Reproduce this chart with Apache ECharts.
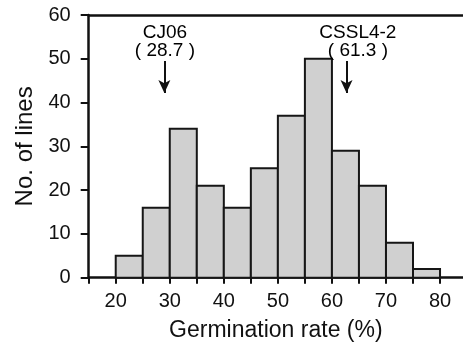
<!DOCTYPE html>
<html>
<head>
<meta charset="utf-8">
<script src="https://cdn.jsdelivr.net/npm/echarts@6/dist/echarts.min.js"></script>
<style>
  html, body { margin: 0; padding: 0; background: #fff; }
  #chart { width: 463px; height: 343px; }
</style>
</head>
<body>
<div id="chart"></div>
<script>
// histogram bins (left edge, width 5) and counts
const binStart = [20, 25, 30, 35, 40, 45, 50, 55, 60, 65, 70, 75];
const binWidth = 5;
const counts = [5, 16, 34, 21, 16, 25, 37, 50, 29, 21, 8, 2];

const xTicks = [15, 20, 25, 30, 35, 40, 45, 50, 55, 60, 65, 70, 75, 80];
const xLabels = [20, 30, 40, 50, 60, 70, 80];
const yTicks = [0, 10, 20, 30, 40, 50, 60];

// parent lines marked with arrows
const parentNames = ['CJ06', 'CSSL4-2'];
const parentValues = ['28.7', '61.3'];
const arrowX = [29.0, 62.7];
const labelX = [29.1, 64.8];

const FONT = 'Liberation Sans, Arial, sans-serif';
const chart = echarts.init(document.getElementById('chart'));

const bins = binStart.map((s, i) => [s, s + binWidth, counts[i]]);

const arrowLines = arrowX.map(x => [
    { coord: [x, 49.5] },
    { coord: [x, 42.2] }
]);

const option = {
    animation: false,
    grid: { left: 88.7, top: 15, right: 0, bottom: 65.3, outerBoundsMode: 'none', containLabel: false },
    xAxis: [{
        type: 'value', min: 15, max: 84.25, interval: 5,
        splitLine: { show: false },
        axisLine: { lineStyle: { color: '#111', width: 2.5 } },
        axisTick: { show: true, length: 6, customValues: xTicks, lineStyle: { color: '#111', width: 2 } },
        axisLabel: { customValues: xLabels, margin: 14, color: '#111', fontSize: 20, fontFamily: FONT },
        name: 'Germination rate (%)', nameLocation: 'middle', nameGap: 41,
        nameTextStyle: { color: '#111', fontSize: 23, fontFamily: FONT }
    }, {
        type: 'value', position: 'top', min: 15, max: 84.25,
        splitLine: { show: false },
        axisLine: { show: true, onZero: false, lineStyle: { color: '#111', width: 2.5 } },
        axisTick: { show: false }, axisLabel: { show: false }
    }],
    yAxis: {
        type: 'value', min: 0, max: 60, interval: 10,
        splitLine: { show: false },
        axisLine: { show: true, lineStyle: { color: '#111', width: 2.5 } },
        axisTick: { show: true, length: 8, customValues: yTicks, lineStyle: { color: '#111', width: 2 } },
        axisLabel: { margin: 18, color: '#111', fontSize: 20, fontFamily: FONT },
        name: 'No. of lines', nameLocation: 'middle', nameGap: 51,
        nameTextStyle: { color: '#111', fontSize: 24, fontFamily: FONT }
    },
    series: [{
        type: 'custom',
        data: bins,
        renderItem: (params, api) => {
            const p0 = api.coord([api.value(0), api.value(2)]);
            const p1 = api.coord([api.value(1), 0]);
            return {
                type: 'rect',
                shape: { x: p0[0], y: p0[1], width: p1[0] - p0[0], height: p1[1] - p0[1] },
                style: { fill: '#d0d0d0', stroke: '#161616', lineWidth: 2 }
            };
        },
        markLine: {
            silent: true,
            symbol: ['none', 'arrow'],
            symbolSize: [9, 13],
            label: { show: false },
            lineStyle: { color: '#111', width: 2, type: 'solid' },
            data: arrowLines
        },
        z: 2
    }, {
        type: 'scatter',
        symbolSize: 0,
        data: labelX.map((x, i) => [x, 53.9]),
        label: {
            show: true, position: 'inside',
            formatter: p => parentNames[p.dataIndex] + '\n( ' + parentValues[p.dataIndex] + ' )',
            color: '#000', opacity: 1, fontSize: 19, lineHeight: 18, fontFamily: FONT, align: 'center'
        },
        labelLayout: { hideOverlap: false },
        z: 3
    }]
};

chart.setOption(option);
window.addEventListener('resize', () => chart.resize());
</script>
</body>
</html>
